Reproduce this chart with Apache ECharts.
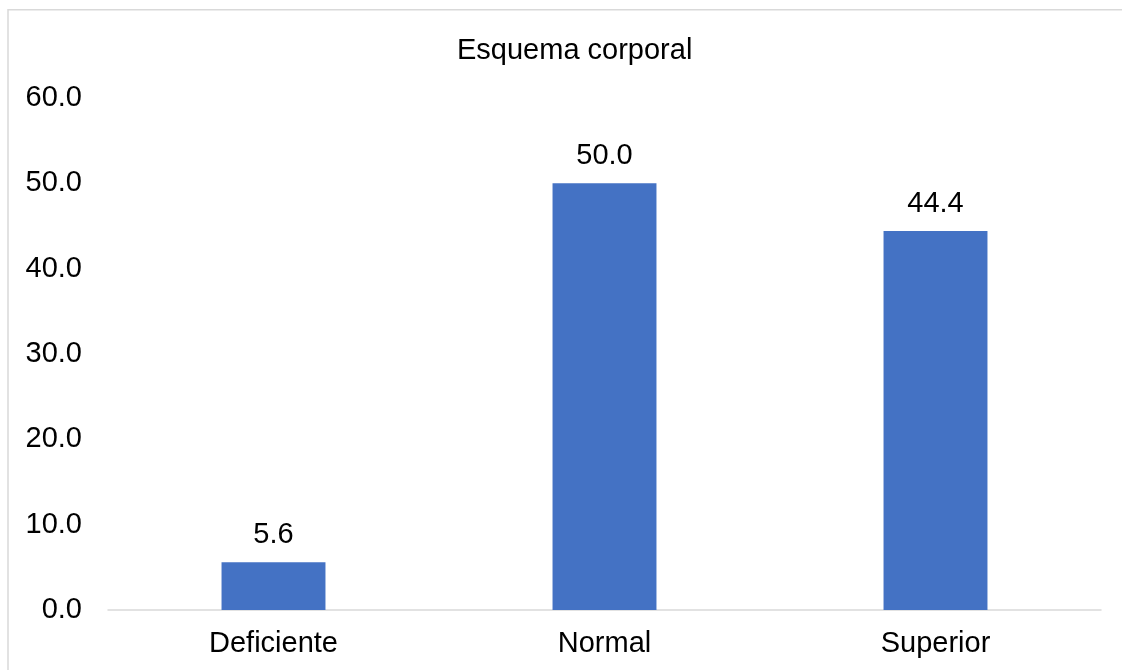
<!DOCTYPE html>
<html>
<head>
<meta charset="utf-8">
<script src="https://cdn.jsdelivr.net/npm/echarts@6/dist/echarts.min.js"></script>
<style>
html,body{margin:0;padding:0;background:#fff;}
#chart{width:1122px;height:670px;}
</style>
</head>
<body>
<div id="chart"></div>
<script>
var title = "Esquema corporal";
var categories = ["Deficiente", "Normal", "Superior"];
var values = [5.6, 50.0, 44.4];
var yMin = 0, yMax = 60, yStep = 10;

var font = "Liberation Sans, Arial, sans-serif";
var chart = echarts.init(document.getElementById('chart'), null, {renderer: 'canvas'});
chart.setOption({
  backgroundColor: '#ffffff',
  animation: false,
  graphic: [{
    type: 'rect',
    shape: {x: 8, y: 9.75, width: 1300, height: 900},
    style: {fill: 'none', stroke: '#d9d9d9', lineWidth: 1.5},
    silent: true
  }],
  title: {
    text: title,
    left: 452,
    top: 31,
    textStyle: {fontFamily: font, fontSize: 29, fontWeight: 'normal', color: '#000'}
  },
  grid: {left: 108, right: 21, top: 98, bottom: 60, containLabel: false},
  xAxis: {
    type: 'category',
    data: categories,
    axisLine: {show: true, lineStyle: {color: '#d9d9d9', width: 1.5}},
    axisTick: {show: false},
    axisLabel: {fontFamily: font, fontSize: 29, color: '#000', margin: 19}
  },
  yAxis: {
    type: 'value',
    min: yMin, max: yMax, interval: yStep,
    axisLine: {show: false},
    axisTick: {show: false},
    splitLine: {show: false},
    axisLabel: {
      fontFamily: font, fontSize: 29, color: '#000', margin: 26,
      formatter: function (v) { return v.toFixed(1); }
    }
  },
  series: [{
    type: 'bar',
    data: values,
    barWidth: '31.4%',
    itemStyle: {color: '#4472C4'},
    label: {
      show: true, position: 'top', distance: 13,
      fontFamily: font, fontSize: 29, color: '#000',
      formatter: function (p) { return p.value.toFixed(1); }
    }
  }]
});
</script>
</body>
</html>
